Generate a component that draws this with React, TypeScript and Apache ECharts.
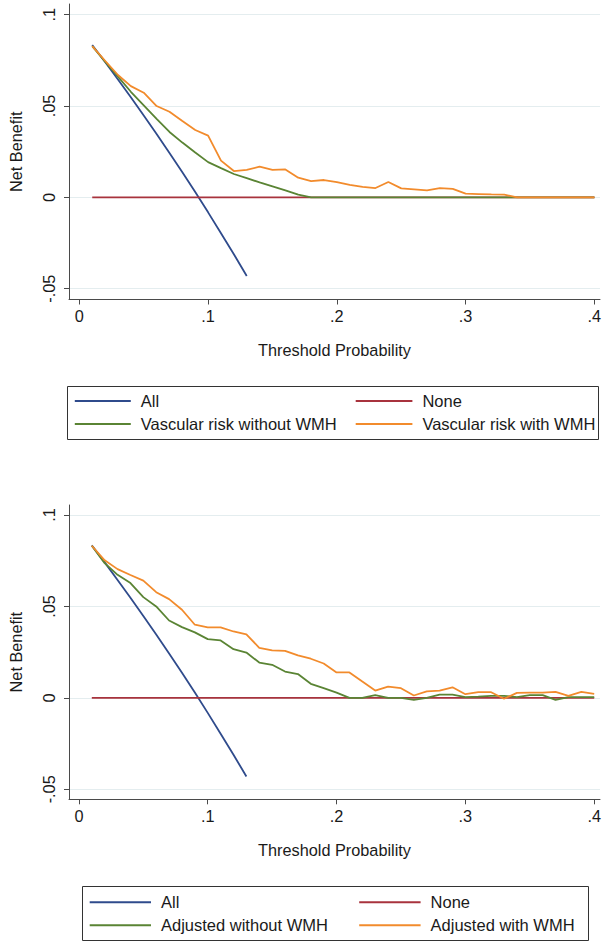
import React, { useEffect, useRef } from "react";
import * as echarts from "echarts";

// ---- data ----
const thresholds = [
  0.01, 0.02, 0.03, 0.04, 0.05, 0.06, 0.07, 0.08, 0.09, 0.1,
  0.11, 0.12, 0.13, 0.14, 0.15, 0.16, 0.17, 0.18, 0.19, 0.2,
  0.21, 0.22, 0.23, 0.24, 0.25, 0.26, 0.27, 0.28, 0.29, 0.3,
  0.31, 0.32, 0.33, 0.34, 0.35, 0.36, 0.37, 0.38, 0.39, 0.4,
];
const allThresholds = [0.01, 0.02, 0.03, 0.04, 0.05, 0.06, 0.07, 0.08, 0.09, 0.1, 0.11, 0.12, 0.13];
const allNB = [0.0834, 0.0741, 0.0645, 0.0548, 0.0448, 0.0347, 0.0243, 0.0137, 0.0029, -0.0082, -0.0196, -0.0311, -0.043];
const noneNB = [
  0, 0, 0, 0, 0, 0, 0, 0, 0, 0, 0, 0, 0, 0, 0, 0, 0, 0, 0, 0,
  0, 0, 0, 0, 0, 0, 0, 0, 0, 0, 0, 0, 0, 0, 0, 0, 0, 0, 0, 0,
];
const vascularWithout = [
  0.0828, 0.0743, 0.0661, 0.0578, 0.0504, 0.043, 0.0358, 0.03, 0.0246, 0.0193,
  0.016, 0.0128, 0.0105, 0.0082, 0.006, 0.0038, 0.0015, 0, 0, 0,
  0, 0, 0, 0, 0, 0, 0, 0, 0, 0,
  0, 0, 0, 0, 0, 0, 0, 0, 0, 0,
];
const vascularWith = [
  0.0828, 0.0748, 0.067, 0.0609, 0.0573, 0.05, 0.0469, 0.0418, 0.0369, 0.0338,
  0.0201, 0.0144, 0.015, 0.0168, 0.015, 0.0153, 0.0108, 0.0089, 0.0095, 0.0084,
  0.0068, 0.0058, 0.0051, 0.0084, 0.0049, 0.0044, 0.0038, 0.0051, 0.0046, 0.002,
  0.0018, 0.0016, 0.0015, 0, 0, 0, 0, 0, 0, 0,
];
const adjustedWithout = [
  0.0832, 0.0737, 0.0673, 0.0628, 0.0551, 0.05, 0.0423, 0.0387, 0.0358, 0.0321,
  0.0314, 0.0266, 0.0248, 0.0193, 0.0181, 0.0144, 0.013, 0.0077, 0.0053, 0.0029,
  0, 0, 0.0015, 0, 0, -0.0011, 0, 0.0018, 0.0018, 0.0004,
  0.0007, 0.0011, 0.0011, 0.0004, 0.0015, 0.0015, -0.0011, 0.0004, 0.0004, 0.0004,
];
const adjustedWith = [
  0.0832, 0.0752, 0.0704, 0.0672, 0.0641, 0.0578, 0.054, 0.0482, 0.04, 0.0385,
  0.0385, 0.0363, 0.0347, 0.0274, 0.026, 0.0257, 0.0232, 0.0214, 0.0188, 0.0139,
  0.0139, 0.0089, 0.004, 0.0062, 0.0053, 0.0013, 0.0035, 0.004, 0.0058, 0.002,
  0.0031, 0.0031, -0.0005, 0.0027, 0.0029, 0.0029, 0.0033, 0.0011, 0.0033, 0.0022,
];
const xTickValues = [0, 0.1, 0.2, 0.3, 0.4];
const xTickLabels = ["0", ".1", ".2", ".3", ".4"];
const yTickValues = [-0.05, 0, 0.05, 0.1];
const yTickLabels = ["-.05", "0", ".05", ".1"];

const topNames = ["All", "None", "Vascular risk without WMH", "Vascular risk with WMH"];
const bottomNames = ["All", "None", "Adjusted without WMH", "Adjusted with WMH"];
const xTitle = "Threshold Probability";
const yTitle = "Net Benefit";

// ---- styles ----
const FONT = "'Liberation Sans', Arial, Helvetica, sans-serif";
const BLUE = "#2f4b8c";
const RED = "#a8333d";
const GREEN = "#5a8434";
const ORANGE = "#f28b2c";
const AXIS = "#4a4a4a";
const GRID = "#e4edef";
const TEXT = "#1a1a1a";

function pairs(xs: number[], ys: number[]) {
  return ys.map((y, i) => [xs[i], y]);
}

function lookup(values: number[], labels: string[]) {
  return (v: number) => {
    const i = values.findIndex((t) => Math.abs(t - v) < 1e-9);
    return i >= 0 ? labels[i] : "";
  };
}

function makeXAxis(gridIndex: number, min: number, max: number, nameGap: number, labelMargin: number) {
  return {
    type: "value",
    gridIndex,
    min,
    max,
    name: xTitle,
    nameLocation: "middle",
    nameGap,
    nameTextStyle: { fontSize: 16.3, color: TEXT, fontFamily: FONT },
    axisLine: { show: true, onZero: false, lineStyle: { color: AXIS, width: 1 } },
    axisTick: { show: true, length: 5, inside: false, customValues: xTickValues, lineStyle: { color: AXIS, width: 1 } },
    axisLabel: {
      show: true,
      customValues: xTickValues,
      formatter: lookup(xTickValues, xTickLabels),
      fontSize: 16.3,
      color: TEXT,
      fontFamily: FONT,
      margin: labelMargin,
    },
    splitLine: { show: false },
  };
}

function makeYAxis(gridIndex: number, min: number, max: number) {
  return {
    type: "value",
    gridIndex,
    min,
    max,
    name: yTitle,
    nameLocation: "middle",
    nameGap: 45,
    nameRotate: 90,
    nameTextStyle: { fontSize: 16.3, color: TEXT, fontFamily: FONT },
    axisLine: { show: true, onZero: false, lineStyle: { color: AXIS, width: 1 } },
    axisTick: { show: true, length: 5, inside: false, customValues: yTickValues, lineStyle: { color: AXIS, width: 1 } },
    axisLabel: {
      show: true,
      customValues: yTickValues,
      formatter: lookup(yTickValues, yTickLabels),
      rotate: 90,
      fontSize: 16.3,
      color: TEXT,
      fontFamily: FONT,
      margin: 12,
    },
    splitLine: { show: true, lineStyle: { color: GRID, width: 1 } },
  };
}

function line(name: string, color: string, data: number[][], axis: number) {
  return {
    name,
    type: "line",
    xAxisIndex: axis,
    yAxisIndex: axis,
    data,
    symbol: "none",
    showSymbol: false,
    lineStyle: { color, width: 1.8 },
    itemStyle: { color },
    emphasis: { disabled: true },
    silent: true,
  };
}

function legend(left: number, top: number, itemWidth: number, data: string[]) {
  return {
    show: true,
    orient: "vertical",
    left,
    top,
    padding: 0,
    itemGap: 5,
    itemWidth,
    itemHeight: 2,
    icon: "rect",
    selectedMode: false,
    data,
    textStyle: { fontSize: 16.5, color: TEXT, fontFamily: FONT, lineHeight: 18, padding: [0, 0, 0, 5] },
  };
}

export default function App() {
  const ref = useRef<HTMLDivElement>(null);
  useEffect(() => {
    if (!ref.current) return;
    const chart = echarts.init(ref.current, undefined, { renderer: "svg" });
    const option = {
      animation: false,
      backgroundColor: "#ffffff",
      textStyle: { fontFamily: FONT },
      grid: [
        { left: 61.5, top: 4, width: 538.5, height: 295.5, containLabel: false },
        { left: 66.7, top: 505, width: 533.3, height: 294.3, containLabel: false },
      ],
      xAxis: [
        makeXAxis(0, -0.00804, 0.40436, 42, 8),
        makeXAxis(1, -0.0077, 0.4045, 43, 9),
      ],
      yAxis: [
        makeYAxis(0, -0.05591, 0.10586),
        makeYAxis(1, -0.05547, 0.10547),
      ],
      legend: [
        legend(74.8, 392, 56, [topNames[0], topNames[2]]),
        legend(355.7, 392, 56.7, [topNames[1], topNames[3]]),
        legend(89.7, 893.3, 61.3, [bottomNames[0], bottomNames[2]]),
        legend(359.2, 893.3, 61.4, [bottomNames[1], bottomNames[3]]),
      ],
      graphic: [
        {
          type: "rect",
          silent: true,
          shape: { x: 67.5, y: 386.5, width: 531, height: 53 },
          style: { fill: "none", stroke: "#333333", lineWidth: 1 },
        },
        {
          type: "rect",
          silent: true,
          shape: { x: 82.5, y: 886.5, width: 506, height: 54 },
          style: { fill: "none", stroke: "#333333", lineWidth: 1 },
        },
      ],
      series: [
        line(topNames[0], BLUE, pairs(allThresholds, allNB), 0),
        line(topNames[1], RED, pairs(thresholds, noneNB), 0),
        line(topNames[2], GREEN, pairs(thresholds, vascularWithout), 0),
        line(topNames[3], ORANGE, pairs(thresholds, vascularWith), 0),
        line(bottomNames[0], BLUE, pairs(allThresholds, allNB), 1),
        line(bottomNames[1], RED, pairs(thresholds, noneNB), 1),
        line(bottomNames[2], GREEN, pairs(thresholds, adjustedWithout), 1),
        line(bottomNames[3], ORANGE, pairs(thresholds, adjustedWith), 1),
      ],
    };
    chart.setOption(option as any);
    return () => chart.dispose();
  }, []);
  return (
    <div
      ref={ref}
      style={{ position: "absolute", left: 0, top: 0, width: 606, height: 943, background: "#fff" }}
    />
  );
}
